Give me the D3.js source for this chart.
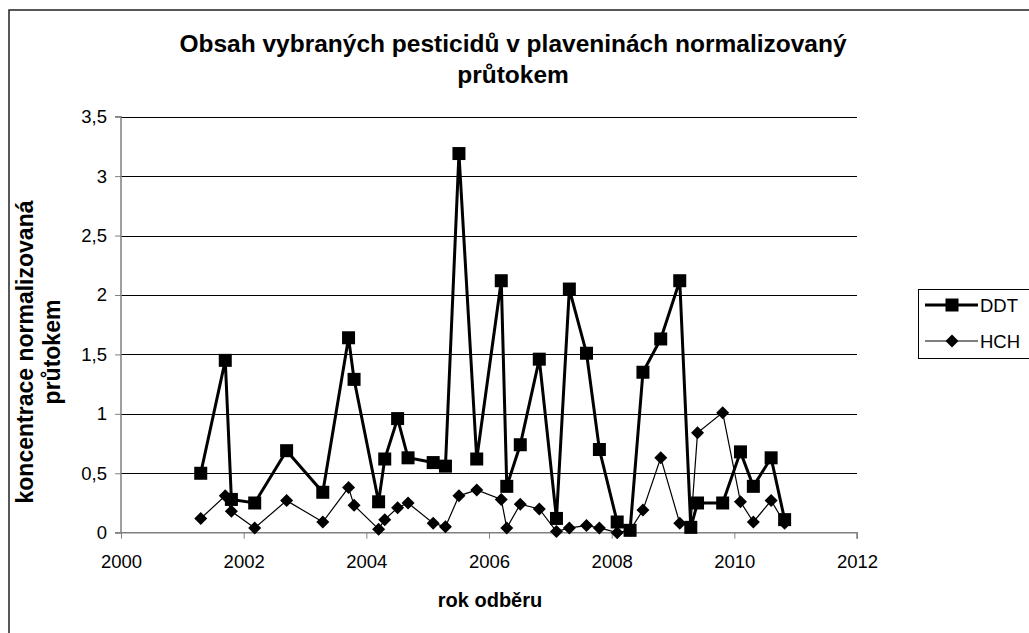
<!DOCTYPE html>
<html>
<head>
<meta charset="utf-8">
<script src="https://cdn.jsdelivr.net/npm/d3@7"></script>
<style>
  html, body { margin: 0; padding: 0; background: #fff; }
  svg { display: block; font-family: "Liberation Sans", Arial, sans-serif; }
</style>
</head>
<body>
<svg id="chart" width="1029" height="633"></svg>
<script>
// ---- data ----
const sampleYears = [2001.30, 2001.70, 2001.80, 2002.18, 2002.70, 2003.29, 2003.71, 2003.80,
  2004.20, 2004.30, 2004.51, 2004.68, 2005.09, 2005.29, 2005.51, 2005.80,
  2006.20, 2006.29, 2006.51, 2006.82, 2007.10, 2007.31, 2007.59, 2007.80,
  2008.09, 2008.30, 2008.51, 2008.80, 2009.11, 2009.29, 2009.40, 2009.81,
  2010.10, 2010.31, 2010.60, 2010.82];
const ddtValues = [0.50, 1.45, 0.28, 0.25, 0.69, 0.34, 1.64, 1.29,
  0.26, 0.62, 0.96, 0.63, 0.59, 0.56, 3.19, 0.62,
  2.12, 0.39, 0.74, 1.46, 0.12, 2.05, 1.51, 0.70,
  0.09, 0.02, 1.35, 1.63, 2.12, 0.045, 0.25, 0.25,
  0.68, 0.39, 0.63, 0.11];
const hchValues = [0.12, 0.31, 0.18, 0.04, 0.27, 0.09, 0.38, 0.23,
  0.03, 0.11, 0.21, 0.25, 0.08, 0.05, 0.31, 0.36,
  0.28, 0.04, 0.24, 0.20, 0.01, 0.04, 0.06, 0.04,
  0.00, 0.02, 0.19, 0.63, 0.08, 0.06, 0.84, 1.01,
  0.26, 0.09, 0.27, 0.08];
const seriesNames = ["DDT", "HCH"];
const xTickValues = [2000, 2002, 2004, 2006, 2008, 2010, 2012];
const yTickValues = [0, 0.5, 1, 1.5, 2, 2.5, 3, 3.5];
const titleLines = ["Obsah vybraných pesticidů v plaveninách normalizovaný", "průtokem"];
const xAxisTitle = "rok odběru";
const yAxisTitleLines = ["koncentrace normalizovaná", "průtokem"];

// ---- layout ----
const svg = d3.select("#chart");
const plot = { left: 121, right: 857, top: 116.7, bottom: 532.7 };
const x = d3.scaleLinear().domain([2000, 2012]).range([plot.left, plot.right]);
const y = d3.scaleLinear().domain([0, 3.5]).range([plot.bottom, plot.top]);

// outer chart border
svg.append("rect").attr("x", 9).attr("y", 10).attr("width", 1040).attr("height", 640)
  .attr("fill", "#fff").attr("stroke", "#222").attr("stroke-width", 1.5);

// title
const title = svg.append("text").attr("text-anchor", "middle")
  .attr("font-weight", "bold").attr("font-size", "24.5px").attr("fill", "#000");
titleLines.forEach((t, i) => {
  title.append("tspan").attr("x", 513).attr("y", 52 + i * 31).text(t);
});

// gridlines
svg.append("g").selectAll("line").data(yTickValues.filter(v => v > 0)).join("line")
  .attr("x1", plot.left).attr("x2", plot.right)
  .attr("y1", d => Math.round(y(d)) + 0.5).attr("y2", d => Math.round(y(d)) + 0.5)
  .attr("stroke", "#000").attr("stroke-width", 1);

// axes
const fmtComma = d => String(d).replace(".", ",");
const yAxis = svg.append("g").attr("transform", `translate(${plot.left},0)`)
  .call(d3.axisLeft(y).tickValues(yTickValues).tickSize(6).tickPadding(8).tickFormat(fmtComma));
const xAxis = svg.append("g").attr("transform", `translate(0,${plot.bottom})`)
  .call(d3.axisBottom(x).tickValues(xTickValues).tickSize(6).tickPadding(16).tickFormat(d3.format("d")));
[xAxis, yAxis].forEach(g => {
  g.select(".domain").attr("stroke", "#808080").attr("stroke-width", 1.5);
  g.selectAll(".tick line").attr("stroke", "#808080").attr("stroke-width", 1);
  g.selectAll(".tick text").attr("font-size", "18.5px").attr("fill", "#000")
    .attr("font-family", "\"Liberation Sans\", Arial, sans-serif");
});
yAxis.select(".domain").attr("d", `M-6,${plot.bottom}H0V${plot.top}H-6`);
xAxis.select(".domain").attr("d", `M${plot.left},0H${plot.right}V6`);

// axis titles
svg.append("text").attr("x", 490).attr("y", 607).attr("text-anchor", "middle")
  .attr("font-weight", "bold").attr("font-size", "20px").text(xAxisTitle);
const yt = svg.append("text").attr("text-anchor", "middle")
  .attr("font-weight", "bold").attr("font-size", "23px")
  .attr("transform", "translate(0,352) rotate(-90)");
yAxisTitleLines.forEach((t, i) => {
  yt.append("tspan").attr("x", 0).attr("y", 33 + i * 27).text(t);
});

// series
const diamond = r => `M0,${-r}L${r},0L0,${r}L${-r},0Z`;
const ddtData = sampleYears.map((yr, i) => ({ x: yr, v: ddtValues[i] }));
const hchData = sampleYears.map((yr, i) => ({ x: yr, v: hchValues[i] }));
const line = d3.line().x(d => x(d.x)).y(d => y(d.v));

svg.append("path").datum(hchData).attr("d", line)
  .attr("fill", "none").attr("stroke", "#000").attr("stroke-width", 1.2);
svg.append("path").datum(ddtData).attr("d", line)
  .attr("fill", "none").attr("stroke", "#000").attr("stroke-width", 3).attr("stroke-linejoin", "miter");

svg.append("g").selectAll("path").data(hchData).join("path")
  .attr("d", diamond(6.5)).attr("transform", d => `translate(${x(d.x)},${y(d.v)})`)
  .attr("fill", "#000");
svg.append("g").selectAll("rect").data(ddtData).join("rect")
  .attr("x", d => x(d.x) - 6.5).attr("y", d => y(d.v) - 6.5)
  .attr("width", 13).attr("height", 13).attr("fill", "#000");

// legend
const lg = svg.append("g");
lg.append("rect").attr("x", 918.5).attr("y", 289.5).attr("width", 130).attr("height", 69)
  .attr("fill", "#fff").attr("stroke", "#000").attr("stroke-width", 1);
seriesNames.forEach((name, i) => {
  const cy = 305 + i * 36;
  lg.append("line").attr("x1", 925).attr("x2", 978).attr("y1", cy).attr("y2", cy)
    .attr("stroke", "#000").attr("stroke-width", i === 0 ? 3 : 1.2);
  if (i === 0) {
    lg.append("rect").attr("x", 945.5).attr("y", cy - 6.5).attr("width", 13).attr("height", 13).attr("fill", "#000");
  } else {
    lg.append("path").attr("d", diamond(6.5)).attr("transform", `translate(952,${cy})`).attr("fill", "#000");
  }
  lg.append("text").attr("x", 980).attr("y", cy + 6.6).attr("font-size", "18.5px").text(name);
});
</script>
</body>
</html>
